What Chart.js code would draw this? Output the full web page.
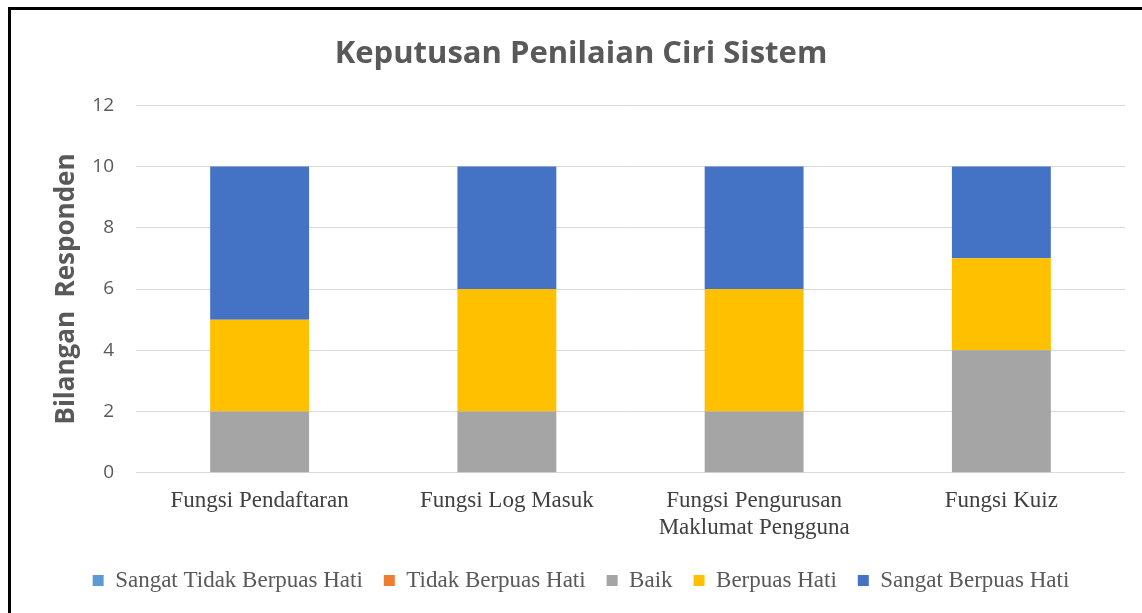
<!DOCTYPE html>
<html><head><meta charset="utf-8">
<script src="https://cdn.jsdelivr.net/npm/chart.js@4.4.1/dist/chart.umd.min.js"></script>
<style>
html,body{margin:0;padding:0;background:#fff;}
#wrap{position:absolute;left:0;top:0;width:1142px;height:613px;}
#frame{position:absolute;left:8px;top:7px;width:1134px;height:606px;border-left:3px solid #000;border-top:3px solid #000;box-sizing:border-box;pointer-events:none;}
</style></head>
<body>
<div id="wrap"><canvas id="c" width="1142" height="613"></canvas></div>
<div id="frame"></div>
<script>
const categories = [["Fungsi Pendaftaran"], ["Fungsi Log Masuk"], ["Fungsi Pengurusan", "Maklumat Pengguna"], ["Fungsi Kuiz"]];
const seriesNames = ["Sangat Tidak Berpuas Hati", "Tidak Berpuas Hati", "Baik", "Berpuas Hati", "Sangat Berpuas Hati"];
const sangatTidak = [0, 0, 0, 0];
const tidak = [0, 0, 0, 0];
const baik = [2, 2, 2, 4];
const berpuas = [3, 4, 4, 3];
const sangatBerpuas = [5, 4, 4, 3];
const yTicks = [0, 2, 4, 6, 8, 10, 12];
const colors = ["#5B9BD5", "#ED7D31", "#A5A5A5", "#FFC000", "#4472C4"];
const values = [sangatTidak, tidak, baik, berpuas, sangatBerpuas];

const sans = "'Open Sans', 'Noto Sans', sans-serif";
const serif = "'Liberation Serif', 'DejaVu Serif', serif";

new Chart(document.getElementById('c'), {
  type: 'bar',
  data: {
    labels: categories,
    datasets: seriesNames.map((n, i) => ({
      label: n,
      data: values[i],
      backgroundColor: colors[i],
      borderWidth: 0,
      categoryPercentage: 1.0,
      barPercentage: 0.4
    }))
  },
  options: {
    responsive: false,
    animation: false,
    devicePixelRatio: 1,
    layout: { padding: { left: 37, right: 17, top: 14, bottom: 11 } },
    plugins: {
      title: {
        display: true,
        text: 'Keputusan Penilaian Ciri Sistem',
        color: '#595959',
        font: { family: sans, size: 31, weight: 'bold' },
        padding: { top: 22, bottom: 32 }
      },
      legend: {
        position: 'bottom',
        labels: {
          color: '#595959',
          font: { family: serif, size: 23 },
          boxWidth: 11, boxHeight: 11,
          padding: 21
        }
      },
      tooltip: { enabled: false }
    },
    scales: {
      x: {
        stacked: true,
        grid: { display: false },
        border: { display: false },
        ticks: { color: '#404040', font: { family: serif, size: 23, lineHeight: 1.2 }, padding: 6, maxRotation: 0, autoSkip: false }
      },
      y: {
        stacked: true,
        min: 0, max: 12,
        afterBuildTicks: (ax) => { ax.ticks = yTicks.map(v => ({ value: v })); },
        afterFit: (ax) => { ax.width = 99; },
        grid: { color: '#D9D9D9', lineWidth: 1, drawTicks: false },
        border: { display: false },
        ticks: { color: '#595959', font: { family: sans, size: 19 }, padding: 22 },
        title: {
          display: true,
          text: 'Bilangan  Responden',
          color: '#595959',
          font: { family: sans, size: 26, weight: 'bold' },
          padding: { top: 14, bottom: 4 }
        }
      }
    }
  }
});
</script>
</body></html>
